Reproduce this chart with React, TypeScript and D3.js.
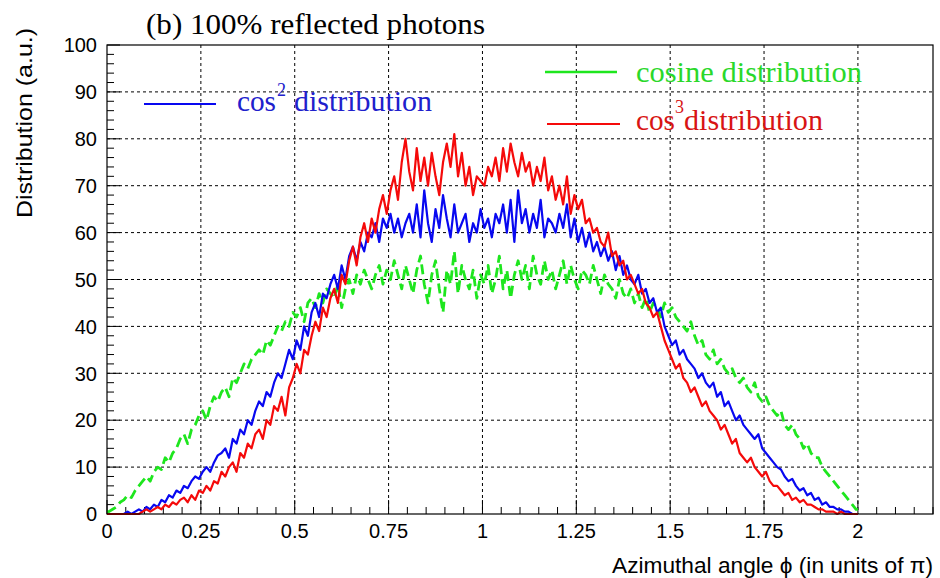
import React from 'react';
import * as d3 from 'd3';

// ---- data (bin width 0.01 in units of pi) ----
const BIN_WIDTH = 0.01;
const xTickValues = [0, 0.25, 0.5, 0.75, 1, 1.25, 1.5, 1.75, 2];
const xTickLabels = ['0', '0.25', '0.5', '0.75', '1', '1.25', '1.5', '1.75', '2'];
const yTickValues = [0, 10, 20, 30, 40, 50, 60, 70, 80, 90, 100];
const yTickLabels = ['0', '10', '20', '30', '40', '50', '60', '70', '80', '90', '100'];

const cosineValues = [
  0.5, 1, 1.5, 2.5, 3, 4, 3.5, 5, 6, 7,
  8, 7, 9, 10, 9.5, 12, 11, 13, 14, 16,
  17, 15, 18, 19, 21, 22, 20, 23, 25, 24,
  26, 27, 25, 29, 28, 30, 32, 31, 33, 34,
  35, 34, 37, 36, 38, 40, 39, 41, 40, 43,
  42, 44, 41, 45, 46, 44, 47, 45, 48, 47,
  46, 49, 44, 48, 50, 47, 51, 49, 52, 50,
  48, 51, 53, 49, 52, 50, 54, 51, 48, 53,
  50, 47, 52, 55, 49, 45, 51, 54, 48, 43,
  52, 49, 56, 47, 53, 50, 48, 52, 46, 51,
  49, 53, 47, 50, 55, 48, 52, 46, 51, 54,
  50, 53, 48, 55, 51, 49, 54, 50, 52, 48,
  51, 54, 49, 53, 50, 48, 52, 51, 49, 53,
  50, 47, 51, 49, 48, 46, 50, 47, 46, 48,
  45, 47, 44, 46, 43, 45, 44, 42, 45, 43,
  44, 42, 41, 40, 39, 41, 38, 36, 37, 34,
  33, 35, 32, 33, 31, 30, 31, 29, 28, 29,
  27, 26, 28, 25, 24, 25, 23, 22, 21, 22,
  19, 18, 19, 17, 16, 14, 15, 13, 12, 12,
  10, 9, 8, 7, 6, 5, 4, 3, 2, 1,
];

const cos2Values = [
  0, 0, 0, 0, 0, 0.5, 0, 0.5, 1, 0.5,
  1.5, 1, 2, 1.5, 3, 2.5, 4, 3.5, 5, 4.5,
  6, 5.5, 7, 8, 7.5, 9, 10, 9, 11, 12.5,
  13, 14, 12, 16, 15, 18, 17, 20, 19, 22,
  24, 23, 26, 25, 28, 30, 29, 32, 35, 33,
  37, 35, 40, 38, 43, 45, 42, 47, 46, 49,
  51, 48, 53, 50, 55, 57, 54, 58, 56, 60,
  59, 62, 58, 63, 61, 64, 60, 63, 59, 62,
  64, 60, 66, 59, 69, 62, 58, 65, 61, 68,
  63, 59, 66, 60, 62, 64, 58, 62, 60, 65,
  61, 63, 59, 64, 62, 66, 60, 67, 58, 69,
  62, 65, 60, 64, 61, 67, 59, 63, 62, 60,
  64, 61, 66, 59, 63, 58, 61, 57, 60, 56,
  58, 55, 57, 54, 56, 52, 55, 51, 53, 50,
  49, 51, 47, 48, 45, 46, 43, 44, 40, 38,
  36, 37, 34, 35, 33, 32, 31, 29, 30, 28,
  27, 28, 25, 26, 23, 24, 22, 20, 21, 19,
  18, 17, 16, 17, 14, 13, 12, 11, 10, 9.5,
  8, 7, 7.5, 6, 5, 5.5, 4, 4.5, 3, 3.5,
  2, 2.5, 1.5, 1.5, 1, 1, 0.5, 0.5, 0, 0,
];

const cos3Values = [
  0, 0, 0, 0, 0, 0, 0, 0, 0, 0.5,
  1, 0.5, 1, 1.5, 1, 2, 1.5, 2.5, 2, 3,
  3.5, 2.5, 4, 3, 5, 4.5, 6, 5, 7, 6.5,
  9, 8, 10, 11, 9, 13, 12, 15, 14, 17,
  18, 16, 20, 19, 23, 22, 25, 21, 27, 29,
  32, 30, 35, 34, 38, 41, 39, 44, 42, 46,
  48, 45, 51, 49, 54, 57, 53, 59, 62, 58,
  63, 60, 65, 68, 64, 69, 72, 67, 75, 80,
  73, 69, 78, 71, 76, 70, 77, 72, 68, 75,
  79, 74, 81, 72, 77, 70, 74, 68, 72, 71,
  70, 74, 72, 76, 71, 78, 73, 79, 75, 72,
  77, 73, 75, 70, 74, 71, 76, 69, 72, 67,
  70, 66, 72, 64, 68, 65, 67, 62, 63, 60,
  61, 58, 57, 60, 55, 56, 53, 54, 50, 51,
  49, 47, 48, 45, 44, 42, 43, 40, 37, 35,
  33, 31, 32, 29, 28, 26, 27, 25, 23, 24,
  22, 21, 20, 18, 19, 17, 15, 16, 13, 12,
  11, 12, 10, 9, 8, 9, 7, 6, 6, 5,
  4, 4.5, 3, 3.5, 2.5, 3, 2, 2, 1.5, 1,
  1, 0.5, 0.5, 0.5, 0, 0.5, 0, 0, 0, 0,
];

const W = 940;
const H = 578;
const left = 107, right = 933, top = 45, bottom = 514;

const GREEN = '#1ee61e';
const BLUE = '#0808f0';
const RED = '#f50a0a';

export default function App() {
  const x = d3.scaleLinear().domain([0, 2.2]).range([left, right]);
  const y = d3.scaleLinear().domain([0, 100]).range([bottom, top]);

  const histPath = (values: number[]) => {
    const pts: [number, number][] = [[0, values[0]]];
    values.forEach((v, i) => pts.push([(i + 0.5) * BIN_WIDTH, v]));
    pts.push([values.length * BIN_WIDTH, values[values.length - 1]]);
    return d3
      .line<[number, number]>()
      .x((d) => x(d[0]))
      .y((d) => y(d[1]))
      .curve(d3.curveLinear)(pts) as string;
  };

  const xMinor = d3.range(0, 2.2001, 0.05);
  const yMinor = d3.range(0, 100.001, 2);

  const sans = 'Liberation Sans, Arial, sans-serif';
  const serif = 'Liberation Serif, Times New Roman, serif';

  return (
    <svg width={W} height={H} style={{ position: 'absolute', left: 0, top: 0, background: '#fff' }}>
      <rect x={0} y={0} width={W} height={H} fill="#fff" />
      {/* grid */}
      <g stroke="#000" strokeWidth={1} strokeDasharray="3,3">
        {xTickValues.slice(1).map((t) => (
          <line key={'gx' + t} x1={x(t)} x2={x(t)} y1={top} y2={bottom} />
        ))}
        {yTickValues.slice(1, -1).map((t) => (
          <line key={'gy' + t} x1={left} x2={right} y1={y(t)} y2={y(t)} />
        ))}
      </g>
      {/* ticks */}
      <g stroke="#000" strokeWidth={1}>
        {xMinor.map((t, i) => {
          const major = i % 5 === 0 && t <= 2.0001;
          return (
            <line key={'tx' + i} x1={x(t)} x2={x(t)} y1={bottom} y2={bottom - (major ? 14 : 7)} />
          );
        })}
        {yMinor.map((t, i) => {
          const major = i % 5 === 0;
          return <line key={'ty' + i} x1={left} x2={left + (major ? 13 : 7)} y1={y(t)} y2={y(t)} />;
        })}
      </g>
      {/* histograms */}
      <path d={histPath(cosineValues)} fill="none" stroke={GREEN} strokeWidth={2.8} strokeDasharray="10,5" strokeLinejoin="round" />
      <path d={histPath(cos2Values)} fill="none" stroke={BLUE} strokeWidth={2.2} strokeLinejoin="round" />
      <path d={histPath(cos3Values)} fill="none" stroke={RED} strokeWidth={2.2} strokeLinejoin="round" />
      {/* frame */}
      <rect x={left} y={top} width={right - left} height={bottom - top} fill="none" stroke="#000" strokeWidth={1.2} />
      {/* tick labels */}
      <g fontFamily={sans} fontSize={20} fill="#000">
        {xTickValues.map((t, i) => (
          <text key={'lx' + t} x={x(t)} y={538} textAnchor="middle">
            {xTickLabels[i]}
          </text>
        ))}
        {yTickValues.map((t, i) => (
          <text key={'ly' + t} x={97} y={y(t)} dy="0.36em" textAnchor="end">
            {yTickLabels[i]}
          </text>
        ))}
      </g>
      {/* axis titles */}
      <text x={933} y={573} textAnchor="end" fontFamily={sans} fontSize={22} textLength={321} lengthAdjust="spacingAndGlyphs">
        Azimuthal angle ϕ (in units of π)
      </text>
      <text
        transform="translate(32,28) rotate(-90)"
        textAnchor="end"
        fontFamily={sans}
        fontSize={22}
        textLength={190}
        lengthAdjust="spacingAndGlyphs"
      >
        Distribution (a.u.)
      </text>
      {/* title */}
      <text x={146} y={34} fontFamily={serif} fontSize={30} textLength={339} lengthAdjust="spacingAndGlyphs">
        (b)  100% reflected photons
      </text>
      {/* legends */}
      <line x1={144} x2={216} y1={104} y2={104} stroke={BLUE} strokeWidth={2} />
      <g fontFamily={serif} fill="#2020cc">
        <text x={237} y={111} fontSize={29} textLength={39} lengthAdjust="spacingAndGlyphs">cos</text>
        <text x={277} y={96} fontSize={18}>2</text>
        <text x={294} y={111} fontSize={29} textLength={138} lengthAdjust="spacingAndGlyphs">distribution</text>
      </g>
      <line x1={545} x2={617} y1={72} y2={72} stroke={GREEN} strokeWidth={2.4} />
      <text x={636} y={82} fontFamily={serif} fontSize={29} fill="#2ad82a" textLength={226} lengthAdjust="spacingAndGlyphs">
        cosine distribution
      </text>
      <line x1={547} x2={620} y1={124} y2={124} stroke={RED} strokeWidth={2} />
      <g fontFamily={serif} fill="#d81414">
        <text x={636} y={130} fontSize={29} textLength={39} lengthAdjust="spacingAndGlyphs">cos</text>
        <text x={675} y={113} fontSize={18}>3</text>
        <text x={684} y={130} fontSize={29} textLength={139} lengthAdjust="spacingAndGlyphs">distribution</text>
      </g>
    </svg>
  );
}
